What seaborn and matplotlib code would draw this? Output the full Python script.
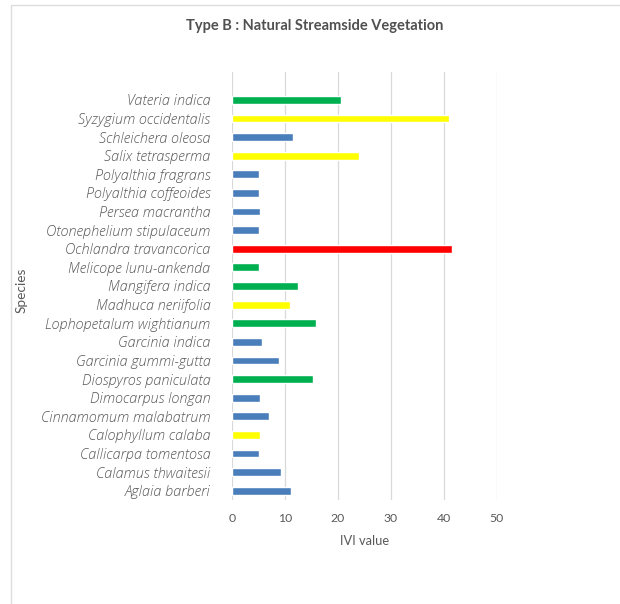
import matplotlib
matplotlib.use("Agg")
import matplotlib.pyplot as plt
from matplotlib.lines import Line2D
import seaborn as sns
import pandas as pd

# Species listed top to bottom as drawn
species = [
    "Vateria indica", "Syzygium occidentalis", "Schleichera oleosa",
    "Salix tetrasperma", "Polyalthia fragrans", "Polyalthia coffeoides",
    "Persea macrantha", "Otonephelium stipulaceum", "Ochlandra travancorica",
    "Melicope lunu-ankenda", "Mangifera indica", "Madhuca neriifolia",
    "Lophopetalum wightianum", "Garcinia indica", "Garcinia gummi-gutta",
    "Diospyros paniculata", "Dimocarpus longan", "Cinnamomum malabatrum",
    "Calophyllum calaba", "Callicarpa tomentosa", "Calamus thwaitesii",
    "Aglaia barberi",
]
ivi = [
    20.5, 41.0, 11.6, 23.9, 5.1, 5.1, 5.3, 5.1, 41.5, 5.1, 12.5, 10.9,
    15.8, 5.7, 8.9, 15.2, 5.3, 7.0, 5.3, 5.1, 9.3, 11.2,
]
group = [
    "green", "yellow", "blue", "yellow", "blue", "blue", "blue", "blue",
    "red", "green", "green", "yellow", "green", "blue", "blue", "green",
    "blue", "blue", "yellow", "blue", "blue", "blue",
]
x_ticks = [0, 10, 20, 30, 40, 50]

group_colors = {"green": "#00B050", "yellow": "#FFFF00",
                "blue": "#4A7EBB", "red": "#FF0000"}

df = pd.DataFrame({"Species": species, "IVI": ivi, "group": group})
palette = {s: group_colors[g] for s, g in zip(species, group)}

sns.set_theme(style="white")
plt.rcParams["font.family"] = ["Lato", "DejaVu Sans"]

W, H = 620, 604
fig = plt.figure(figsize=(W / 100, H / 100), dpi=100)
ax = fig.add_axes([232 / W, 1 - 500 / H, (497 - 232) / W, (500 - 72) / H])

sns.barplot(data=df, x="IVI", y="Species", hue="Species", palette=palette,
            order=species, legend=False, width=0.42, saturation=1,
            ax=ax, zorder=3)

n = len(species)
ax.set_ylim(n - 0.5, -1.5)
ax.set_xlim(0, 50)
ax.set_xticks(x_ticks)
ax.grid(axis="x", color="#D9D9D9", linewidth=0.9, zorder=0)
ax.grid(axis="y", visible=False)
for s in ax.spines.values():
    s.set_visible(False)

gray = "#595959"
ax.tick_params(axis="both", length=0, colors=gray)
ax.tick_params(axis="y", pad=15.5, labelsize=10.4)
ax.tick_params(axis="x", pad=9, labelsize=8.8)
for lab in ax.get_yticklabels():
    lab.set_fontstyle("italic")
    lab.set_fontfamily(["Open Sans", "DejaVu Sans"])
    lab.set_fontweight("light")

ax.set_xlabel("IVI value", color=gray, fontsize=9.3, labelpad=8)
ax.set_ylabel("Species", color=gray, fontsize=9.8)
ax.yaxis.set_label_coords(-(232 - 28) / (497 - 232), 0.49)

fig.text(315 / W, 1 - 26 / H, "Type B : Natural Streamside Vegetation",
         ha="center", va="center", fontsize=10.5, fontweight="bold",
         color="#505050")

# chart frame edges (top and left)
fig.add_artist(Line2D([11 / W, 1], [1 - 5 / H, 1 - 5 / H],
                      transform=fig.transFigure, color="#DDDDDD", lw=1.0))
fig.add_artist(Line2D([11 / W, 11 / W], [0, 1 - 5 / H],
                      transform=fig.transFigure, color="#DDDDDD", lw=1.0))

fig.savefig("out.png", dpi=100, facecolor="white")
